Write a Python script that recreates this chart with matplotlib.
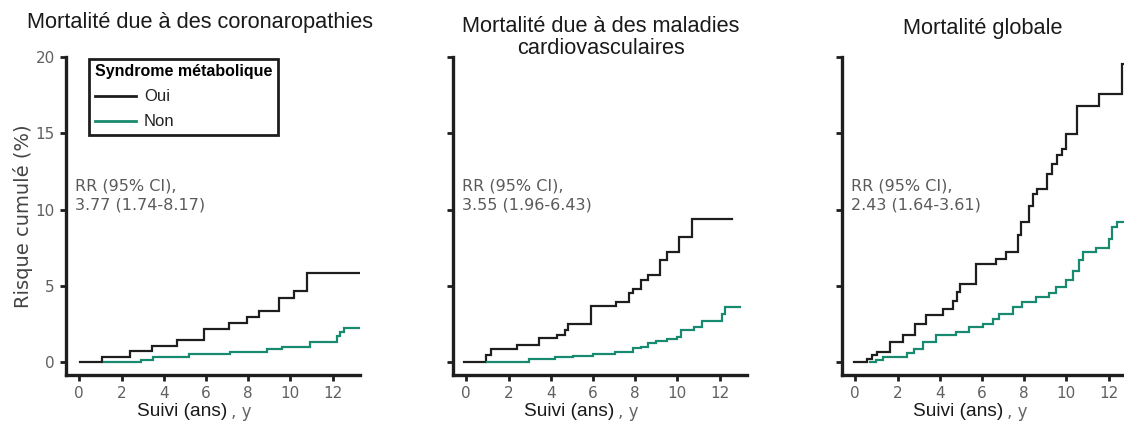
import matplotlib
matplotlib.use("Agg")
import matplotlib.pyplot as plt
from matplotlib.lines import Line2D

# --- data (years, cumulative risk in %) ---
titles = ["Mortalité due à des coronaropathies",
          "Mortalité due à des maladies\ncardiovasculaires",
          "Mortalité globale"]
rr_texts = ["RR (95% CI),\n3.77 (1.74-8.17)",
            "RR (95% CI),\n3.55 (1.96-6.43)",
            "RR (95% CI),\n2.43 (1.64-3.61)"]

chd_oui_t = [0.05, 1.07, 2.42, 3.44, 4.63, 5.92, 7.08, 7.94, 8.5, 9.45, 10.16, 10.79, 13.24]
chd_oui_v = [0, 0.3, 0.74, 1.05, 1.44, 2.16, 2.53, 2.97, 3.34, 4.17, 4.68, 5.81, 5.81]
chd_non_t = [1.15, 2.9, 3.5, 5.18, 7.16, 8.9, 9.6, 10.95, 12.2, 12.37, 12.53, 13.35]
chd_non_v = [0, 0.15, 0.35, 0.5, 0.63, 0.83, 0.96, 1.29, 1.7, 1.95, 2.21, 2.21]

cvd_oui_t = [-0.09, 0.92, 1.16, 2.41, 3.43, 4.29, 4.68, 4.84, 5.93, 7.1, 7.73, 7.89,
             8.28, 8.59, 9.2, 9.53, 10.08, 10.7, 12.58]
cvd_oui_v = [0, 0.46, 0.83, 1.11, 1.55, 1.77, 2.1, 2.47, 3.67, 3.95, 4.5, 4.77,
             5.38, 5.7, 6.69, 7.23, 8.22, 9.36, 9.36]
cvd_non_t = [1.0, 2.96, 4.2, 5.07, 6.0, 7.03, 7.89, 8.3, 8.59, 9.0, 9.5, 10.0,
             10.16, 10.78, 11.17, 12.11, 12.27, 12.97]
cvd_non_v = [0, 0.17, 0.3, 0.41, 0.55, 0.68, 0.9, 1.0, 1.22, 1.35, 1.5, 1.66,
             2.1, 2.31, 2.71, 3.15, 3.63, 3.63]

all_oui_t = [-0.08, 0.55, 0.8, 1.02, 1.65, 2.27, 2.82, 3.37, 4.16, 4.63, 4.8, 4.95,
             5.73, 6.67, 7.14, 7.69, 7.85, 8.24, 8.4, 8.63, 9.1, 9.3, 9.57, 9.8,
             9.96, 10.51, 11.53, 12.63, 13.3]
all_oui_v = [0, 0.2, 0.45, 0.68, 1.31, 1.75, 2.52, 3.06, 3.5, 4.0, 4.6, 5.14,
             6.45, 6.78, 7.21, 8.3, 9.18, 10.2, 11.04, 11.37, 12.3, 13.0, 13.56, 14.0,
             14.98, 16.77, 17.56, 19.57, 19.57]
all_non_t = [0.71, 1.0, 1.33, 2.43, 2.8, 3.22, 3.84, 4.78, 5.41, 6.04, 6.51, 6.82,
             7.45, 7.92, 8.55, 9.18, 9.49, 9.98, 10.3, 10.6, 10.8, 11.4, 12.0, 12.16,
             12.4, 13.3]
all_non_v = [0, 0.15, 0.33, 0.6, 0.87, 1.31, 1.75, 1.97, 2.3, 2.52, 2.85, 3.17,
             3.61, 3.95, 4.27, 4.5, 4.89, 5.37, 6.0, 6.67, 7.21, 7.5, 8.09, 8.85,
             9.2, 9.2]

series = [(chd_oui_t, chd_oui_v, chd_non_t, chd_non_v),
          (cvd_oui_t, cvd_oui_v, cvd_non_t, cvd_non_v),
          (all_oui_t, all_oui_v, all_non_t, all_non_v)]

x_ticks = [0, 2, 4, 6, 8, 10, 12]
y_ticks = [0, 5, 10, 15, 20]

BLACK = "#1e1e1e"
TEAL = "#188a6f"
GREY = "#5a5a5a"
W, H = 1124, 421

fig = plt.figure(figsize=(W / 100, H / 100), dpi=100)
lefts = [66, 453, 842]
# title centres in axes fraction (x, y)
title_pos = [(0.456, 1.107), (0.503, 1.061), (0.48, 1.091)]

for i, left in enumerate(lefts):
    ax = fig.add_axes([left / W, (H - 375) / H, 294 / W, 318 / H])
    oui_t, oui_v, non_t, non_v = series[i]
    ax.step(oui_t, oui_v, where="post", color=BLACK, lw=1.6, solid_joinstyle="miter")
    ax.step(non_t, non_v, where="post", color=TEAL, lw=1.6, solid_joinstyle="miter")

    ax.set_xlim(-0.63, 13.3)
    ax.set_ylim(-0.85, 20)
    ax.set_xticks(x_ticks)
    ax.set_yticks(y_ticks)
    for s in ["top", "right"]:
        ax.spines[s].set_visible(False)
    for s in ["left", "bottom"]:
        ax.spines[s].set_linewidth(2.4)
        ax.spines[s].set_color(BLACK)
    ax.tick_params(length=4.5, width=2, color=BLACK, labelcolor="#606060",
                   labelsize=11, pad=3.5)
    if i > 0:
        ax.set_yticklabels([])
    else:
        ax.set_ylabel("Risque cumulé (%)", fontsize=14, color="#444444",
                      labelpad=2)

    tx, ty = title_pos[i]
    ax.text(tx, ty, titles[i], transform=ax.transAxes, ha="center", va="center",
            fontsize=15.7, family="Liberation Sans", color="#1a1a1a",
            linespacing=1.05)
    ax.text(0.03, 0.565, rr_texts[i], transform=ax.transAxes, fontsize=11.5,
            color=GREY, va="center", linespacing=1.3)

    # x label: dark "Suivi (ans)" followed by a lighter ", y"
    ax.text(0.55, -0.115, "Suivi (ans)", transform=ax.transAxes, ha="right",
            va="center", fontsize=13.8, family="Liberation Sans", color="#1a1a1a")
    ax.text(0.56, -0.115, ", y", transform=ax.transAxes, ha="left",
            va="center", fontsize=12, color="#666666")

    if i == 0:
        handles = [Line2D([], [], color=BLACK, lw=2),
                   Line2D([], [], color=TEAL, lw=2)]
        leg = ax.legend(handles, ["Oui", "Non"], title="Syndrome métabolique",
                        loc="upper left", bbox_to_anchor=(0.078, 0.995),
                        frameon=True, fancybox=False, framealpha=1, fontsize=12,
                        title_fontproperties={"size": 11.5, "family": "Liberation Sans",
                                              "weight": "bold"},
                        alignment="left", handlelength=2.5, handletextpad=0.45,
                        borderpad=0.35, labelspacing=0.6, borderaxespad=0)
        leg.get_frame().set_edgecolor(BLACK)
        leg.get_frame().set_linewidth(2)
        for t in leg.get_texts():
            t.set_family("Liberation Sans")
            t.set_color("#222222")

fig.savefig("out.png", dpi=100)
